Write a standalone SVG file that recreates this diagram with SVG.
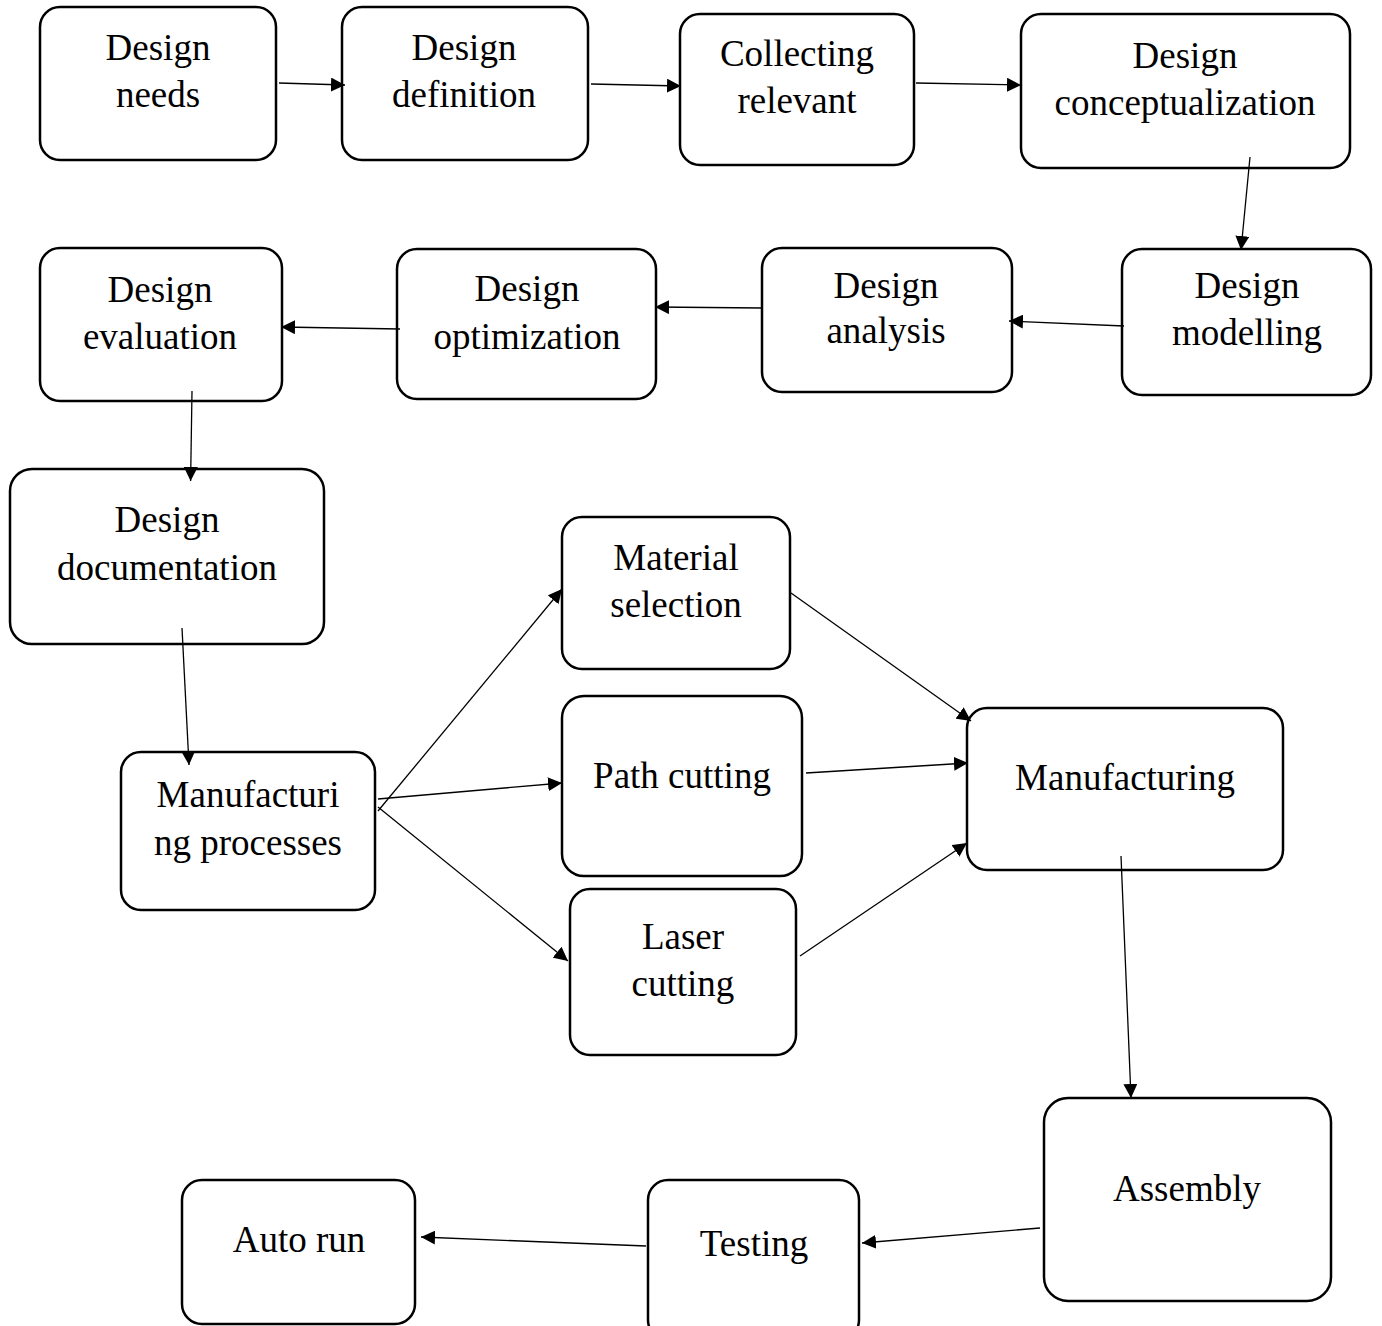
<svg xmlns="http://www.w3.org/2000/svg" width="1382" height="1326" viewBox="0 0 1382 1326">
<defs>
<marker id="ah" markerUnits="userSpaceOnUse" markerWidth="15" markerHeight="14" refX="14" refY="7" orient="auto">
<path d="M0,0 L14,7 L0,14 z" fill="#000"/>
</marker>
<style>
.box{fill:#fff;stroke:#000;stroke-width:2.5}
.lbl{font-family:"Liberation Serif","Times New Roman",serif;font-size:37px;fill:#000;text-anchor:middle}
.conn line{stroke:#000;stroke-width:1.3;marker-end:url(#ah)}
</style>
</defs>
<rect width="1382" height="1326" fill="#fff"/>
<g id="n-design-needs"><rect class="box" x="40" y="7" width="236" height="153" rx="20"/><text class="lbl" x="158" y="60">Design</text><text class="lbl" x="158" y="107">needs</text></g>
<g id="n-design-definition"><rect class="box" x="342" y="7" width="246" height="153" rx="20"/><text class="lbl" x="464" y="60">Design</text><text class="lbl" x="464" y="107">definition</text></g>
<g id="n-collecting"><rect class="box" x="680" y="14" width="234" height="151" rx="20"/><text class="lbl" x="797" y="66">Collecting</text><text class="lbl" x="797" y="113">relevant</text></g>
<g id="n-conceptualization"><rect class="box" x="1021" y="14" width="329" height="154" rx="20"/><text class="lbl" x="1185" y="68">Design</text><text class="lbl" x="1185" y="115">conceptualization</text></g>
<g id="n-modelling"><rect class="box" x="1122" y="249" width="249" height="146" rx="20"/><text class="lbl" x="1247" y="298">Design</text><text class="lbl" x="1247" y="345">modelling</text></g>
<g id="n-analysis"><rect class="box" x="762" y="248" width="250" height="144" rx="20"/><text class="lbl" x="886" y="298">Design</text><text class="lbl" x="886" y="343">analysis</text></g>
<g id="n-optimization"><rect class="box" x="397" y="249" width="259" height="150" rx="20"/><text class="lbl" x="527" y="301">Design</text><text class="lbl" x="527" y="349">optimization</text></g>
<g id="n-evaluation"><rect class="box" x="40" y="248" width="242" height="153" rx="20"/><text class="lbl" x="160" y="302">Design</text><text class="lbl" x="160" y="349">evaluation</text></g>
<g id="n-documentation"><rect class="box" x="10" y="469" width="314" height="175" rx="22"/><text class="lbl" x="167" y="532">Design</text><text class="lbl" x="167" y="580">documentation</text></g>
<g id="n-manproc"><rect class="box" x="121" y="752" width="254" height="158" rx="20"/><text class="lbl" x="248" y="807">Manufacturi</text><text class="lbl" x="248" y="855">ng processes</text></g>
<g id="n-material"><rect class="box" x="562" y="517" width="228" height="152" rx="20"/><text class="lbl" x="676" y="570">Material</text><text class="lbl" x="676" y="617">selection</text></g>
<g id="n-path"><rect class="box" x="562" y="696" width="240" height="180" rx="22"/><text class="lbl" x="682" y="788">Path cutting</text></g>
<g id="n-laser"><rect class="box" x="570" y="889" width="226" height="166" rx="20"/><text class="lbl" x="683" y="949">Laser</text><text class="lbl" x="683" y="996">cutting</text></g>
<g id="n-manufacturing"><rect class="box" x="967" y="708" width="316" height="162" rx="20"/><text class="lbl" x="1125" y="790">Manufacturing</text></g>
<g id="n-assembly"><rect class="box" x="1044" y="1098" width="287" height="203" rx="24"/><text class="lbl" x="1187" y="1201">Assembly</text></g>
<g id="n-testing"><rect class="box" x="648" y="1180" width="211" height="160" rx="20"/><text class="lbl" x="754" y="1256">Testing</text></g>
<g id="n-autorun"><rect class="box" x="182" y="1180" width="233" height="144" rx="20"/><text class="lbl" x="299" y="1252">Auto run</text></g>
<g id="connectors" class="conn">
<line x1="279" y1="83" x2="345" y2="85"/>
<line x1="591" y1="84" x2="681" y2="86"/>
<line x1="916" y1="83" x2="1021" y2="85"/>
<line x1="1250" y1="157" x2="1241" y2="250"/>
<line x1="1124" y1="326" x2="1009" y2="321"/>
<line x1="762" y1="308" x2="655" y2="307"/>
<line x1="400" y1="329" x2="281" y2="327"/>
<line x1="192" y1="391" x2="190.6" y2="481"/>
<line x1="182" y1="628" x2="189" y2="765"/>
<line x1="378" y1="811" x2="562" y2="589"/>
<line x1="378" y1="799" x2="562" y2="783"/>
<line x1="378" y1="807" x2="568" y2="961"/>
<line x1="791" y1="593" x2="971" y2="721"/>
<line x1="806" y1="773" x2="968" y2="763"/>
<line x1="800" y1="956" x2="967" y2="843"/>
<line x1="1121" y1="856" x2="1131" y2="1098"/>
<line x1="1040" y1="1228" x2="862" y2="1243"/>
<line x1="646" y1="1246" x2="421" y2="1237"/>
</g>
</svg>
